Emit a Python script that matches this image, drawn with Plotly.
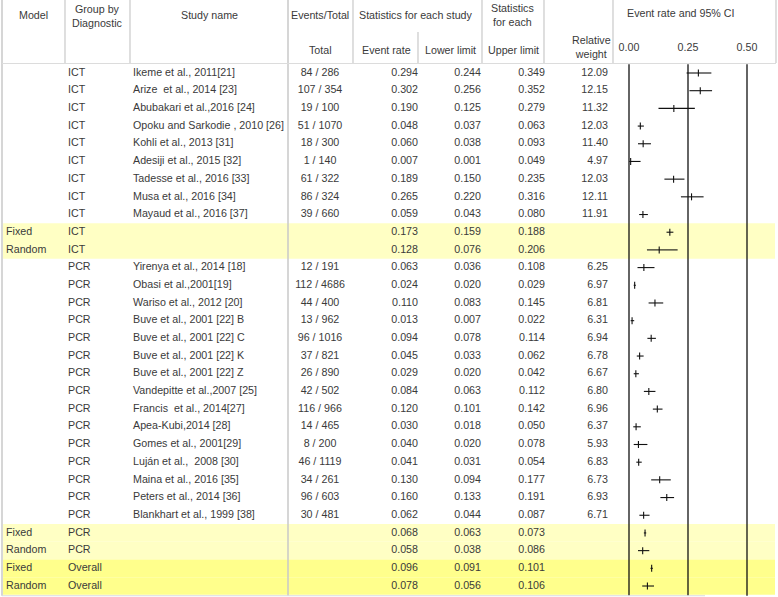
import plotly.graph_objects as go

# ---- data ----
models = [''] * 9 + ['Fixed', 'Random'] + [''] * 15 + ['Fixed', 'Random', 'Fixed', 'Random']
groups = ['ICT'] * 11 + ['PCR'] * 17 + ['Overall'] * 2
studies = [
    'Ikeme et al., 2011[21]', 'Arize  et al., 2014 [23]', 'Abubakari et al.,2016 [24]',
    'Opoku and Sarkodie , 2010 [26]', 'Kohli et al., 2013 [31]', 'Adesiji et al., 2015 [32]',
    'Tadesse et al., 2016 [33]', 'Musa et al., 2016 [34]', 'Mayaud et al., 2016 [37]',
    '', '',
    'Yirenya et al., 2014 [18]', 'Obasi et al.,2001[19]', 'Wariso et al., 2012 [20]',
    'Buve et al., 2001 [22] B', 'Buve et al., 2001 [22] C', 'Buve et al., 2001 [22] K',
    'Buve et al., 2001 [22] Z', 'Vandepitte et al.,2007 [25]', 'Francis  et al., 2014[27]',
    'Apea-Kubi,2014 [28]', 'Gomes et al., 2001[29]', 'Luján et al.,  2008 [30]',
    'Maina et al., 2016 [35]', 'Peters et al., 2014 [36]', 'Blankhart et al., 1999 [38]',
    '', '', '', '',
]
events_total = [
    '84 / 286', '107 / 354', '19 / 100', '51 / 1070', '18 / 300', '1 / 140',
    '61 / 322', '86 / 324', '39 / 660', '', '',
    '12 / 191', '112 / 4686', '44 / 400', '13 / 962', '96 / 1016', '37 / 821',
    '26 / 890', '42 / 502', '116 / 966', '14 / 465', '8 / 200', '46 / 1119',
    '34 / 261', '96 / 603', '30 / 481', '', '', '', '',
]
event_rate = [0.294, 0.302, 0.190, 0.048, 0.060, 0.007, 0.189, 0.265, 0.059, 0.173, 0.128,
              0.063, 0.024, 0.110, 0.013, 0.094, 0.045, 0.029, 0.084, 0.120, 0.030, 0.040,
              0.041, 0.130, 0.160, 0.062, 0.068, 0.058, 0.096, 0.078]
lower_limit = [0.244, 0.256, 0.125, 0.037, 0.038, 0.001, 0.150, 0.220, 0.043, 0.159, 0.076,
               0.036, 0.020, 0.083, 0.007, 0.078, 0.033, 0.020, 0.063, 0.101, 0.018, 0.020,
               0.031, 0.094, 0.133, 0.044, 0.063, 0.038, 0.091, 0.056]
upper_limit = [0.349, 0.352, 0.279, 0.063, 0.093, 0.049, 0.235, 0.316, 0.080, 0.188, 0.206,
               0.108, 0.029, 0.145, 0.022, 0.114, 0.062, 0.042, 0.112, 0.142, 0.050, 0.078,
               0.054, 0.177, 0.191, 0.087, 0.073, 0.086, 0.101, 0.106]
rel_weight = ['12.09', '12.15', '11.32', '12.03', '11.40', '4.97', '12.03', '12.11', '11.91',
              '', '', '6.25', '6.97', '6.81', '6.31', '6.94', '6.78', '6.67', '6.80', '6.96',
              '6.37', '5.93', '6.83', '6.73', '6.93', '6.71', '', '', '', '']
axis_ticks = [0.0, 0.25, 0.5]
axis_tick_labels = ['0.00', '0.25', '0.50']

W, H = 778, 597
ROW0, ROWH = 73, 17.69          # pixel centre of first row, row height
n = len(studies)
rows = list(range(n))


def py(px):
    # pixel y -> row coordinate
    return (px - ROW0) / ROWH


FONT = dict(family='Liberation Sans, Arial, sans-serif', size=10.7, color='#3a3a3a')
GRID = '#c9c9c9'
INK = '#111111'

fig = go.Figure()


def text_col(x, labels, pos):
    fig.add_trace(go.Scatter(x=[x] * n, y=rows, text=labels, mode='text',
                             textposition=pos, textfont=FONT, hoverinfo='skip',
                             showlegend=False, cliponaxis=False))


text_col(6, models, 'middle right')
text_col(68, groups, 'middle right')
text_col(133, studies, 'middle right')
text_col(320, events_total, 'middle center')
text_col(418, ['%.3f' % v for v in event_rate], 'middle left')
text_col(481, ['%.3f' % v for v in lower_limit], 'middle left')
text_col(545, ['%.3f' % v for v in upper_limit], 'middle left')
text_col(608, rel_weight, 'middle left')

# confidence intervals
ci_x, ci_y = [], []
for i in rows:
    ci_x += [lower_limit[i], upper_limit[i], None]
    ci_y += [i, i, None]
fig.add_trace(go.Scatter(x=ci_x, y=ci_y, xaxis='x2', mode='lines',
                         line=dict(color=INK, width=1.1),
                         hoverinfo='skip', showlegend=False))
fig.add_trace(go.Scatter(x=event_rate, y=rows, xaxis='x2', mode='markers',
                         marker=dict(symbol='line-ns-open', size=5, color=INK,
                                     line=dict(color=INK, width=1.1)),
                         hoverinfo='skip', showlegend=False))

# axis tick labels in header
fig.add_trace(go.Scatter(x=axis_ticks, y=[py(48)] * 3, xaxis='x2', mode='text',
                         text=axis_tick_labels, textposition='middle center',
                         textfont=FONT, hoverinfo='skip', showlegend=False,
                         cliponaxis=False))

shapes = []
# summary row shading
for i in rows:
    if models[i]:
        col = '#ffff8c' if groups[i] == 'Overall' else '#ffffc4'
        shapes.append(dict(type='rect', xref='x', yref='y', x0=3, x1=775,
                           y0=i - 0.5, y1=i + 0.5, fillcolor=col,
                           line=dict(width=0), layer='below'))

# vertical reference lines of the forest plot
for t in axis_ticks:
    shapes.append(dict(type='line', xref='x2', yref='y', x0=t, x1=t,
                       y0=-0.5, y1=n - 0.45, line=dict(color=INK, width=1.3)))

# table grid
for x in [2, 288]:
    shapes.append(dict(type='line', xref='x', yref='y', x0=x, x1=x,
                       y0=py(0), y1=n - 0.45, line=dict(color=GRID, width=1.5)))
for x in [65, 130, 353, 482, 544, 613, 776]:
    shapes.append(dict(type='line', xref='x', yref='y', x0=x, x1=x,
                       y0=py(0), y1=py(63), line=dict(color=GRID, width=1.2)))
shapes.append(dict(type='line', xref='x', yref='y', x0=418, x1=418,
                   y0=py(32), y1=py(63), line=dict(color=GRID, width=1.2)))
shapes.append(dict(type='line', xref='x', yref='y', x0=2, x1=776,
                   y0=py(63.5), y1=py(63.5), line=dict(color='#dcdcdc', width=1)))
shapes.append(dict(type='line', xref='x', yref='y', x0=2, x1=705,
                   y0=n - 0.45, y1=n - 0.45, line=dict(color='#dcdcdc', width=1)))

# header texts
headers = [
    (33, 15, 'Model'), (97, 16, 'Group by<br>Diagnostic'), (209, 15, 'Study name'),
    (320, 15, 'Events/Total'), (320, 50, 'Total'),
    (416, 15, 'Statistics for each study'), (512, 15, 'Statistics<br>for each'),
    (386, 50, 'Event rate'), (450, 50, 'Lower limit'), (513, 50, 'Upper limit'),
    (591, 47, 'Relative<br>weight'), (681, 13, 'Event rate and 95% CI'),
]
annotations = [dict(x=x, y=py(y), xref='x', yref='y', text=t, showarrow=False,
                    font=FONT, xanchor='center', yanchor='middle')
               for x, y, t in headers]

dom0, dom1 = 612 / W, 775 / W
fig.update_layout(
    width=W, height=H,
    margin=dict(l=0, r=0, t=0, b=0),
    paper_bgcolor='white', plot_bgcolor='rgba(0,0,0,0)',
    xaxis=dict(range=[0, W], domain=[0, 1], visible=False, fixedrange=True),
    xaxis2=dict(range=[(612 - 629) / 236, (775 - 629) / 236], domain=[dom0, dom1],
                anchor='y', visible=False, fixedrange=True),
    yaxis=dict(range=[py(H), py(0)], visible=False, fixedrange=True),
    shapes=shapes, annotations=annotations,
    showlegend=False, hovermode=False,
)

fig.write_html("out.html", config={'displayModeBar': False},
               post_script="document.body.style.margin='0';")
